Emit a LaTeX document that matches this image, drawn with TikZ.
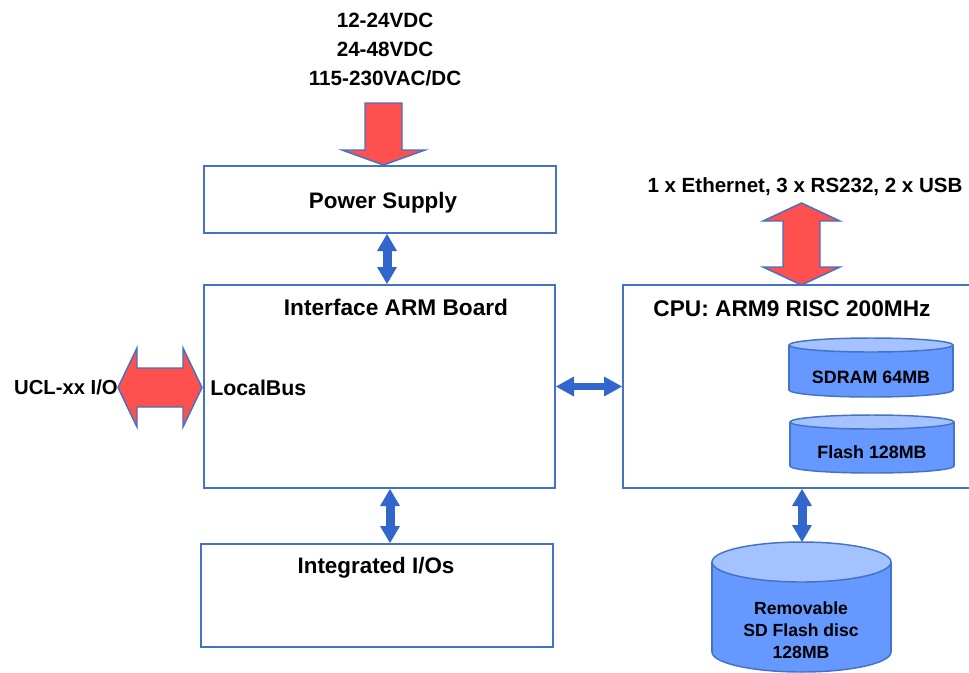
\documentclass[tikz,border=0pt]{standalone}
\usepackage{fontspec}
\setmainfont{Liberation Sans}
\usetikzlibrary{arrows.meta}
\definecolor{boxblue}{HTML}{4472C4}
\definecolor{arrowblue}{HTML}{3366CC}
\definecolor{redfill}{HTML}{FF5050}
\definecolor{cylbody}{HTML}{6699FF}
\definecolor{cyltop}{HTML}{A4C2FF}
\tikzset{
  box/.style={draw=boxblue, line width=1.5pt, rectangle, inner sep=0pt, fill=white},
  tx/.style={font=\fontsize{#1}{#1}\selectfont\bfseries, inner sep=0pt, text height={0.716*#1pt}, text depth=0pt},
  barrow/.style={draw=arrowblue, line width=6.75pt, {Triangle[width=15pt,length=12.75pt,line width=0pt]}-{Triangle[width=15pt,length=12.75pt,line width=0pt]}},
  barrowh/.style={draw=arrowblue, line width=5.25pt, {Triangle[width=15pt,length=13.5pt,line width=0pt]}-{Triangle[width=15pt,length=13.5pt,line width=0pt]}},
  redarrow/.style={fill=redfill, draw=boxblue, line width=1.1pt, line join=miter},
  cylline/.style={draw=boxblue, line width=1.1pt}
}
\newcommand\drawcyl[5]{% cx, rx, ytop, ybot, ry
  \filldraw[cylline, fill=cylbody] (#1,#4) ellipse [x radius=#2, y radius=#5];
  \fill[cylbody] (#1-#2,#3) rectangle (#1+#2,#4);
  \draw[cylline] (#1-#2,#3) -- (#1-#2,#4) (#1+#2,#3) -- (#1+#2,#4);
  \filldraw[cylline, fill=cyltop] (#1,#3) ellipse [x radius=#2, y radius=#5];
}
\begin{document}
\begin{tikzpicture}[x=0.75pt,y=-0.75pt]
\useasboundingbox (0,0) rectangle (969,672);
\fill[white] (0,0) rectangle (969,672);
\clip (0,0) rectangle (969,672);

% boxes
\node[box, minimum width=264pt, minimum height=50.25pt] (ps) at (380,199.5) {};
\node[box, minimum width=263.25pt, minimum height=152.25pt] (arm) at (379.5,386.5) {};
\node[box, minimum width=264pt, minimum height=77.25pt] (io) at (377,595.5) {};
\node[box, minimum width=271.5pt, minimum height=152.25pt] (cpu) at (804,386.5) {};

% texts
\node[font=\fontsize{15.5}{22}\selectfont\bfseries, align=center, inner sep=0pt] (volt) at (385,49.5) {12-24VDC\\24-48VDC\\115-230VAC/DC};
\node[tx=16.8] (pstext) at (383,200) {Power Supply};
\node[tx=17] (armtitle) at (396,307) {Interface ARM Board};
\node[tx=16, anchor=west] (lb) at (210,388) {LocalBus};
\node[tx=15.2, anchor=east] (ucl) at (118,387) {UCL-xx I/O};
\node[tx=16.8] (iotext) at (376,565) {Integrated I/Os};
\node[tx=15.4] (eth) at (805,185) {1 x Ethernet, 3 x RS232, 2 x USB};
\node[tx=17] (cputitle) at (792,308) {CPU: ARM9 RISC 200MHz};

% cylinders
\drawcyl{871}{82}{345}{390}{7}
\node[tx=13.4] (sdram) at (871,377) {SDRAM 64MB};
\drawcyl{872}{82}{422}{466}{7}
\node[tx=13.4] (flash) at (872,452) {Flash 128MB};
\drawcyl{801.5}{89.5}{562}{652}{20}
\node[font=\fontsize{13.2}{16.5}\selectfont\bfseries, align=center, inner sep=0pt] (sd) at (801,630) {Removable\\SD Flash disc\\128MB};
\coordinate (sdtop) at (802,542);

% blue connectors
\coordinate (x1) at (387,0);
\coordinate (x2) at (390,0);
\draw[barrow] (ps.south -| x1) -- (arm.north -| x1);
\draw[barrow] (arm.south -| x2) -- (io.north -| x2);
\draw[barrowh] (arm.east) -- (cpu.west);
\draw[barrow] (cpu.south -| sdtop) -- (sdtop);

% red arrows
\draw[redarrow] (365,103) -- (402,103) -- (402,150) -- (425,150) -- (383.5,165) -- (342,150) -- (365,150) -- cycle;
\draw[redarrow] (801.5,203) -- (840,221) -- (820,221) -- (820,267) -- (840,267) -- (801.5,285) -- (763,267) -- (783,267) -- (783,221) -- (763,221) -- cycle;
\draw[redarrow] (118,387.5) -- (137,348) -- (137,368) -- (183,368) -- (183,348) -- (202,387.5) -- (183,427) -- (183,407) -- (137,407) -- (137,427) -- cycle;
\end{tikzpicture}
\end{document}
